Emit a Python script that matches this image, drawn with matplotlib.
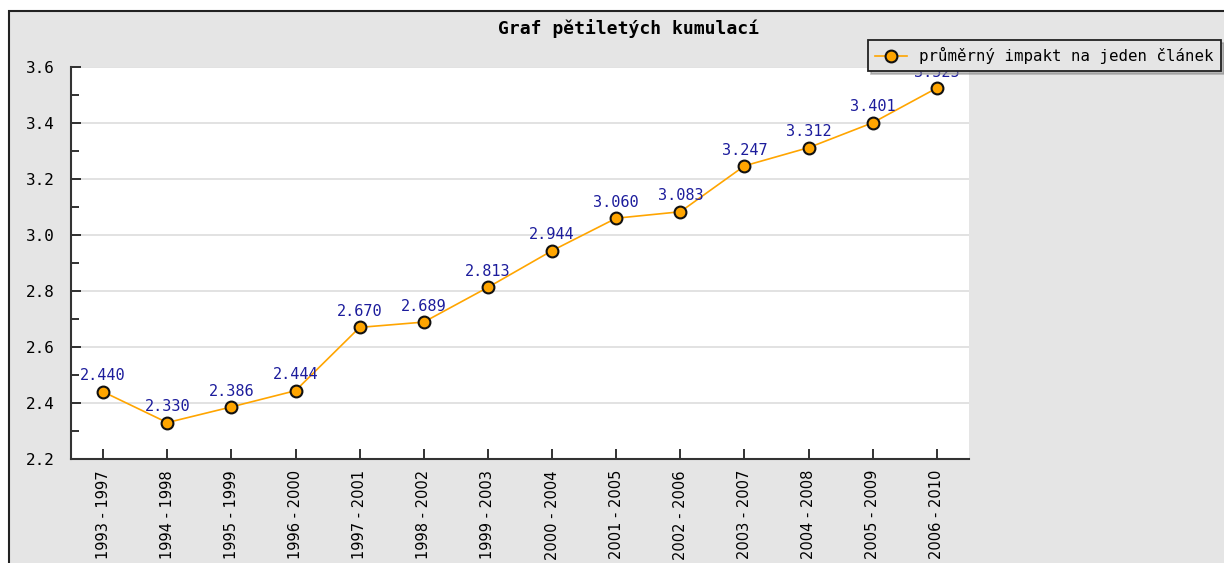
import matplotlib.pyplot as plt
from matplotlib.patches import Rectangle
from matplotlib.ticker import MultipleLocator

periods = ['1993 - 1997', '1994 - 1998', '1995 - 1999', '1996 - 2000',
           '1997 - 2001', '1998 - 2002', '1999 - 2003', '2000 - 2004',
           '2001 - 2005', '2002 - 2006', '2003 - 2007', '2004 - 2008',
           '2005 - 2009', '2006 - 2010']
impact = [2.440, 2.330, 2.386, 2.444, 2.670, 2.689, 2.813, 2.944,
          3.060, 3.083, 3.247, 3.312, 3.401, 3.525]

mono = 'DejaVu Sans Mono'
bg = '#e5e5e5'

fig = plt.figure(figsize=(12.24, 5.63), dpi=100)
fig.patch.set_facecolor('white')

# outer frame of the chart (runs off the right and bottom edges)
W, H = 1224, 563
frame = Rectangle((9 / W, -0.05), 1.2, (H - 11) / H + 0.05,
                  transform=fig.transFigure, facecolor=bg,
                  edgecolor='#222222', linewidth=1.5, zorder=-5)
fig.patches.append(frame)

ax = fig.add_axes([71 / W, 1 - 459 / H, (969 - 71) / W, (459 - 67) / H])
ax.set_facecolor('white')

x = list(range(len(periods)))
ax.plot(x, impact, color='#ffa500', linewidth=1.2, marker='o',
        markersize=8.5, markerfacecolor='#ffa500', markeredgecolor='#111111',
        markeredgewidth=1.5, label='průměrný impakt na jeden článek',
        zorder=3, clip_on=False)

for xi, v in zip(x, impact):
    ax.annotate(f'{v:.3f}', (xi, v), xytext=(0, 6), textcoords='offset points',
                ha='center', va='bottom', color='#1c1c9c', family=mono,
                fontsize=11, zorder=4)

ax.set_xlim(-0.5, len(periods) - 0.5)
ax.set_ylim(2.2, 3.6)
ax.yaxis.set_major_locator(MultipleLocator(0.2))
ax.yaxis.set_minor_locator(MultipleLocator(0.1))
ax.set_yticks(ax.get_yticks())
ax.set_yticklabels([f'{t:.1f}' for t in ax.get_yticks()], family=mono, fontsize=11.5)
ax.set_ylim(2.2, 3.6)
ax.set_xticks(x)
ax.set_xticklabels(periods, rotation=90, fontsize=10.5, family='DejaVu Sans')

ax.tick_params(axis='both', which='major', direction='in', length=7,
               width=1.3, color='#222222')
ax.tick_params(axis='y', which='minor', direction='in', length=6,
               width=1.3, color='#222222')
ax.tick_params(axis='y', pad=12)
ax.tick_params(axis='x', pad=8)

ax.grid(axis='y', which='major', color='#dddddd', linewidth=1.2)
ax.set_axisbelow(True)
for side in ['top', 'right']:
    ax.spines[side].set_visible(False)
for side in ['left', 'bottom']:
    ax.spines[side].set_color('#333333')
    ax.spines[side].set_linewidth(1.5)

fig.text(628 / W, 1 - 29 / H, 'Graf pětiletých kumulací', ha='center',
         va='center', family=mono, fontweight='bold', fontsize=13)

leg = fig.legend(loc='upper right', bbox_to_anchor=(1221 / W, 1 - 40 / H),
                 prop={'family': mono, 'size': 11.3}, frameon=True,
                 fancybox=False, shadow={'color': '#888888'},
                 borderpad=0.45, handlelength=2.0, handletextpad=0.8,
                 borderaxespad=0)
leg.get_frame().set_facecolor(bg)
leg.get_frame().set_edgecolor('#222222')
leg.get_frame().set_linewidth(1.3)
leg.set_zorder(10)

fig.savefig('out.png', dpi=100)
